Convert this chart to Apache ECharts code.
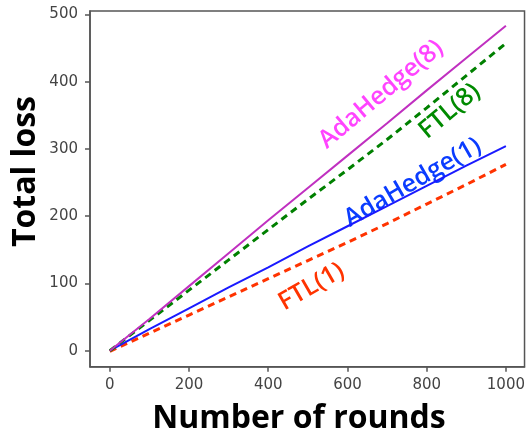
<!DOCTYPE html>
<html>
<head>
<meta charset="utf-8">
<script src="https://cdn.jsdelivr.net/npm/echarts@6/dist/echarts.min.js"></script>
<style>html,body{margin:0;padding:0;background:#fff;}#c{width:528px;height:432px;}</style>
</head>
<body>
<div id="c"></div>
<script>
// ---- data ----
const rounds = [0, 100, 200, 300, 400, 500, 600, 700, 800, 900, 1000];
const adaHedge8 = [0, 47, 96, 145, 194, 242, 290, 338, 387, 435, 483];
const ftl8 = [0, 45, 90, 135, 180, 225, 269, 314, 361, 409, 457];
const adaHedge1 = [0, 32, 63, 94, 124, 155, 185, 215, 245, 275, 304];
const ftl1 = [-1, 26, 53, 80, 107, 134, 161, 189, 218, 247, 277];
const xTicks = [0, 200, 400, 600, 800, 1000];
const yTicks = [0, 100, 200, 300, 400, 500];
const seriesNames = ['AdaHedge(8)', 'FTL(8)', 'AdaHedge(1)', 'FTL(1)'];
// label anchor positions in data space [rounds, loss]
const labelAt = [[685, 381], [858, 356], [765, 250], [509, 95]];
const xTitle = 'Number of rounds';
const yTitle = 'Total loss';

const pairs = (ys) => rounds.map((x, i) => [x, ys[i]]);
const chart = echarts.init(document.getElementById('c'), null, {renderer: 'canvas'});

const lblFont = '"Open Sans"';
function mk(name, ys, color, lblColor, dashed, width, idx, rot) {
  return {
    name: name, type: 'line', data: pairs(ys), symbol: 'none', smooth: false,
    lineStyle: {color: color, width: width, type: dashed ? [7, 5] : 'solid'},
    z: 10 - idx,
    markPoint: {
      symbol: 'circle', symbolSize: 0, silent: true,
      data: [{coord: labelAt[idx], value: name}],
      label: {show: true, position: 'inside', formatter: name, rotate: rot,
        color: lblColor, fontSize: 25, fontWeight: 600, fontFamily: lblFont}
    }
  };
}

function axisCommon(ticks) {
  return {
    axisLine: {show: true, onZero: false, lineStyle: {color: '#555', width: 1.5}},
    axisTick: {show: true, inside: false, length: 5, customValues: ticks, lineStyle: {color: '#555', width: 1.5}},
    splitLine: {show: false}
  };
}

chart.setOption({
  animation: false,
  backgroundColor: '#fff',
  grid: {left: 90, right: 1.3, top: 11, bottom: 65.3, show: true, borderColor: '#555', borderWidth: 1.5, backgroundColor: 'transparent'},
  xAxis: Object.assign({
    type: 'value', min: -50, max: 1047,
    axisLabel: {customValues: xTicks, margin: 11, color: '#444', fontSize: 15, fontFamily: 'DejaVu Sans', formatter: (v) => String(v)}
  }, axisCommon(xTicks)),
  yAxis: Object.assign({
    type: 'value', min: -23.8, max: 505,
    axisLabel: {customValues: yTicks, margin: 12, color: '#444', fontSize: 15, fontFamily: 'DejaVu Sans', formatter: (v) => String(v)}
  }, axisCommon(yTicks)),
  series: [
    mk(seriesNames[0], adaHedge8, '#c030c0', '#ff44ff', false, 2, 0, 40),
    mk(seriesNames[1], ftl8, '#008000', '#008a00', true, 3, 1, 40),
    mk(seriesNames[2], adaHedge1, '#1a1aff', '#0a3cff', false, 2, 2, 30),
    mk(seriesNames[3], ftl1, '#ff3300', '#ff3300', true, 3, 3, 30)
  ],
  graphic: [
    {type: 'text', x: 299, y: 419,
      style: {text: xTitle, x: 0, y: 0, align: 'center', verticalAlign: 'middle', fill: '#000', font: 'bold 32px "Open Sans"'}},
    {type: 'text', x: 26, y: 171.5, rotation: Math.PI / 2,
      style: {text: yTitle, x: 0, y: 0, align: 'center', verticalAlign: 'middle', fill: '#000', font: 'bold 32px "Open Sans"'}}
  ]
});
</script>
</body>
</html>
